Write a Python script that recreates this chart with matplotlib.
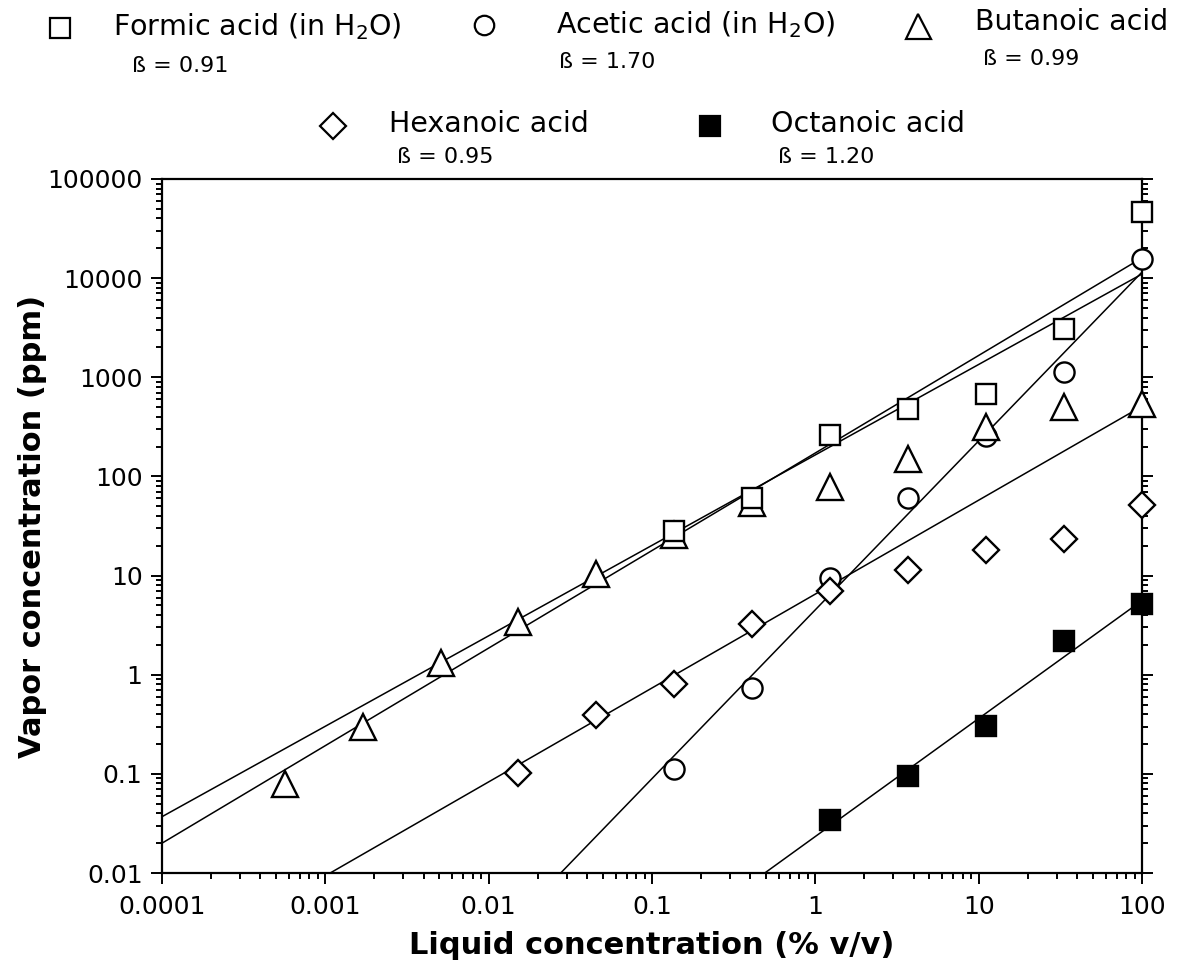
import matplotlib.pyplot as plt
from matplotlib.ticker import FixedLocator, LogLocator, NullFormatter

# data (liquid % v/v -> vapor ppm)
formic_x = [100, 33.3, 11.1, 3.7, 1.23, 0.41, 0.137]
formic_y = [46000, 3100, 680, 480, 260, 60, 28]

acetic_x = [100, 33.3, 11.1, 3.7, 1.23, 0.41, 0.137]
acetic_y = [15500, 1140, 255, 60, 9.4, 0.73, 0.112]

butanoic_x = [100, 33.3, 11.1, 3.7, 1.23, 0.41, 0.137, 0.0457, 0.0152, 0.00508, 0.00169, 0.000565]
butanoic_y = [540, 497, 318, 149, 78, 54, 25.6, 10.4, 3.39, 1.31, 0.30, 0.079]

hexanoic_x = [100, 33.3, 11.1, 3.7, 1.23, 0.41, 0.137, 0.0457, 0.0152]
hexanoic_y = [51.5, 23.2, 18.1, 11.4, 7.0, 3.24, 0.80, 0.39, 0.101]

octanoic_x = [100, 33.3, 11.1, 3.7, 1.23]
octanoic_y = [5.2, 2.19, 0.304, 0.096, 0.034]

# fitted power-law lines (end points)
formic_fit_x = [0.0001, 100]
formic_fit_y = [0.037, 11000]
acetic_fit_x = [0.0276, 100]
acetic_fit_y = [0.01, 11500]
butanoic_fit_x = [0.0001, 100]
butanoic_fit_y = [0.020, 16000]
hexanoic_fit_x = [0.00107, 100]
hexanoic_fit_y = [0.01, 510]
octanoic_fit_x = [0.49, 100]
octanoic_fit_y = [0.01, 5.6]

x_ticks = [0.0001, 0.001, 0.01, 0.1, 1, 10, 100]
x_ticklabels = ['0.0001', '0.001', '0.01', '0.1', '1', '10', '100']
y_ticks = [0.01, 0.1, 1, 10, 100, 1000, 10000, 100000]
y_ticklabels = ['0.01', '0.1', '1', '10', '100', '1000', '10000', '100000']

plt.rcParams['font.family'] = ['DejaVu Sans']
plt.rcParams['mathtext.fontset'] = 'dejavusans'

fig = plt.figure(figsize=(11.85, 9.68), dpi=100)
ax = fig.add_axes([0.1367, 0.0981, 0.827, 0.717])

lw = 1.1
for fx, fy in [(formic_fit_x, formic_fit_y), (acetic_fit_x, acetic_fit_y),
               (butanoic_fit_x, butanoic_fit_y), (hexanoic_fit_x, hexanoic_fit_y),
               (octanoic_fit_x, octanoic_fit_y)]:
    ax.plot(fx, fy, color='black', lw=lw, zorder=2)

mew = 1.7
ax.plot(acetic_x, acetic_y, 'o', ms=14.5, mfc='white', mec='black', mew=mew, zorder=3, clip_on=False)
ax.plot(butanoic_x, butanoic_y, '^', ms=19, mfc='white', mec='black', mew=mew, zorder=4, clip_on=False)
ax.plot(formic_x, formic_y, 's', ms=14.5, mfc='white', mec='black', mew=mew, zorder=5, clip_on=False)
ax.plot(hexanoic_x, hexanoic_y, 'D', ms=13.5, mfc='white', mec='black', mew=mew, zorder=6, clip_on=False)
ax.plot(octanoic_x, octanoic_y, 's', ms=15, mfc='black', mec='black', mew=mew, zorder=7, clip_on=False)

ax.set_xscale('log')
ax.set_yscale('log')
ax.set_xlim(0.0001, 100)
ax.set_ylim(0.01, 100000)

ax.xaxis.set_major_locator(FixedLocator(x_ticks))
ax.set_xticklabels(x_ticklabels)
ax.yaxis.set_major_locator(FixedLocator(y_ticks))
ax.set_yticklabels(y_ticklabels)
ax.xaxis.set_minor_locator(LogLocator(base=10, subs=range(2, 10), numticks=20))
ax.yaxis.set_minor_locator(LogLocator(base=10, subs=range(2, 10), numticks=20))
ax.xaxis.set_minor_formatter(NullFormatter())
ax.yaxis.set_minor_formatter(NullFormatter())

for s in ax.spines.values():
    s.set_linewidth(1.6)
ax.tick_params(which='both', direction='out', top=False, right=True, width=1.4)
ax.tick_params(which='major', length=8, labelsize=18)
ax.tick_params(axis='x', which='major', pad=8)
ax.tick_params(axis='y', which='major', pad=6)
ax.tick_params(which='minor', length=4)

ax.set_xlabel('Liquid concentration (% v/v)', fontsize=22, fontweight='bold')
ax.set_ylabel('Vapor concentration (ppm)', fontsize=22, fontweight='bold')
ax.xaxis.set_label_coords(0.5, -0.083)
ax.yaxis.set_label_coords(-0.117, 0.5)
ax.xaxis.label.set_va('top')

# legend built by hand, rows like the original
W, H = 1185.0, 968.0
legend_items = [
    (60, 28, 's', 'white', 'Formic acid (in H$_2$O)', 113, 27, 'ß = 0.91', 132, 66),
    (484, 25, 'o', 'white', 'Acetic acid (in H$_2$O)', 556, 25, 'ß = 1.70', 559, 62),
    (918, 26, '^', 'white', 'Butanoic acid', 975, 22, 'ß = 0.99', 983, 59),
    (333, 126, 'D', 'white', 'Hexanoic acid', 389, 124, 'ß = 0.95', 397, 157),
    (710, 126, 's', 'black', 'Octanoic acid', 771, 124, 'ß = 1.20', 778, 157),
]
for mx, my, mk, fc, lab, tx, ty, blab, bx, by in legend_items:
    ms = {'s': 14, 'o': 14, '^': 18, 'D': 13}[mk]
    fig.lines.append(plt.Line2D([mx / W], [1 - my / H], marker=mk, ms=ms, mfc=fc, mec='black',
                                mew=1.6, ls='none', transform=fig.transFigure))
    fig.text(tx / W, 1 - ty / H, lab, fontsize=20.5, va='center', ha='left')
    fig.text(bx / W, 1 - by / H, blab, fontsize=16, va='center', ha='left')

fig.savefig('out.png', dpi=100)
